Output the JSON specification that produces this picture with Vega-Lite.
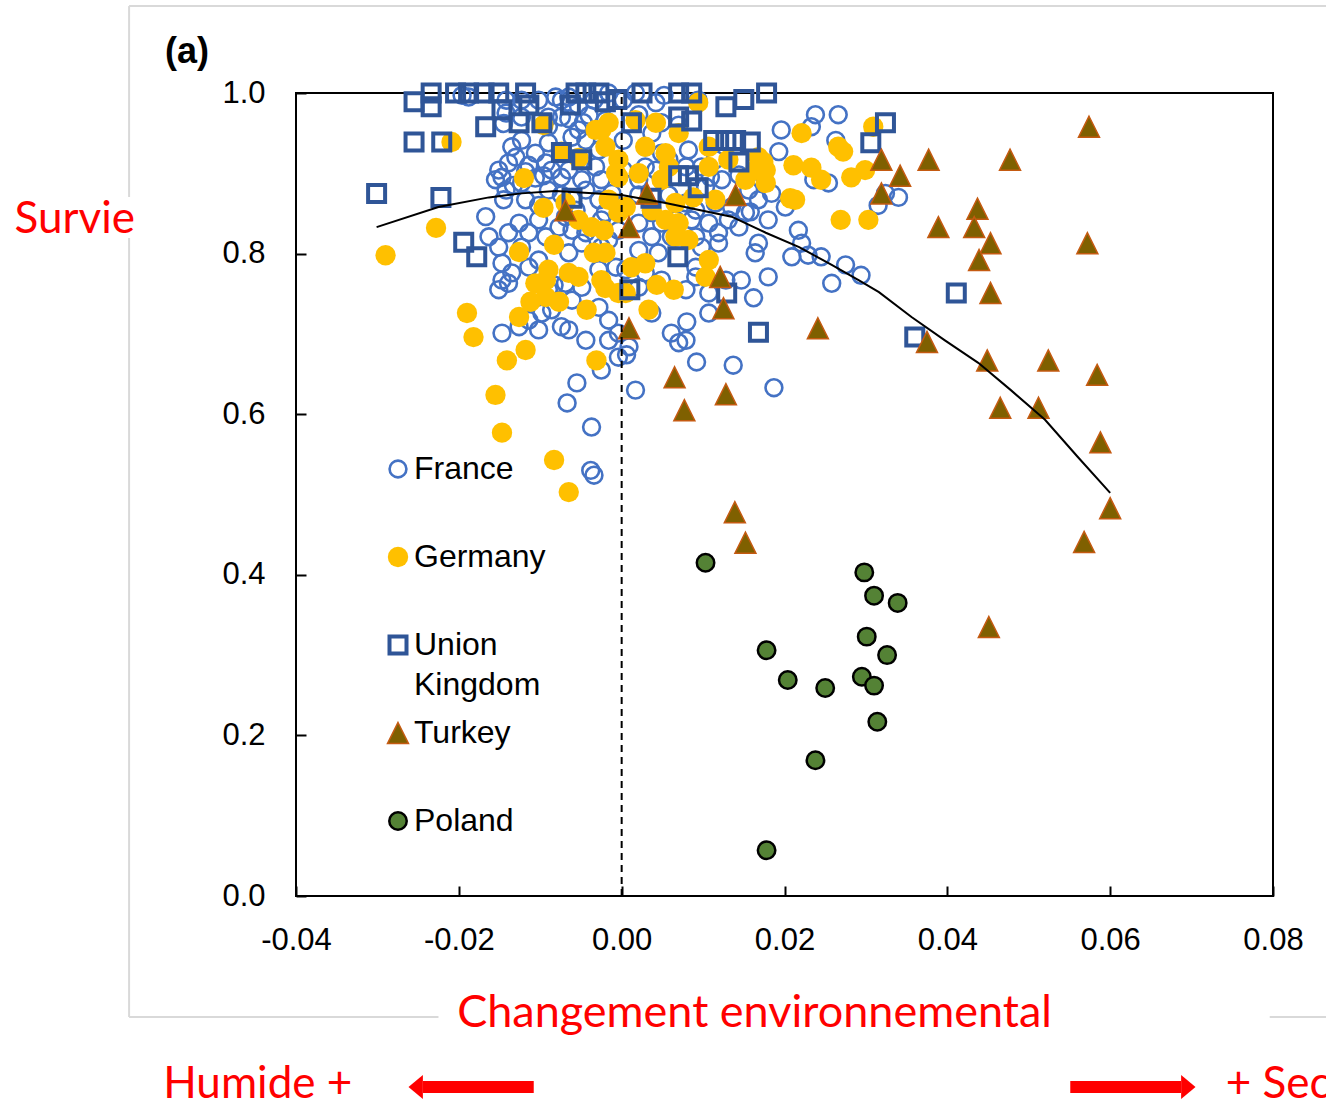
{
  "$schema": "https://vega.github.io/schema/vega-lite/v6.json",
  "width": 977,
  "height": 803,
  "autosize": {"type": "none"},
  "padding": {"left": 296, "top": 93, "right": 53, "bottom": 213},
  "background": "white",
  "config": {
    "view": {"stroke": "black", "strokeWidth": 2},
    "style": {"guide-label": {"lineHeight": 40}},
    "axis": {"domain": false, "grid": false, "ticks": true, "tickColor": "black", "tickWidth": 2, "tickSize": -10, "labelColor": "black", "labelFont": "Liberation Sans", "labelFontSize": 31, "labelFlush": false, "labelOverlap": false, "labelBound": false},
    "legend": {"orient": "none", "legendX": 86, "legendY": 360, "padding": 0, "labelFont": "Liberation Sans", "labelFontSize": 32, "labelColor": "black", "labelOffset": 0, "rowPadding": 15, "gridAlign": "all", "labelLimit": 400}
  },
  "datasets": {
    "pts": [
      {"c":"France","x":-0.0196,"y":0.997},{"c":"France","x":-0.0188,"y":0.995},{"c":"France","x":-0.0142,"y":0.991},{"c":"France","x":-0.0123,"y":0.991},{"c":"France","x":-0.0081,"y":0.995},{"c":"France","x":-0.0074,"y":0.991},{"c":"France","x":-0.0065,"y":0.995},{"c":"France","x":-0.0053,"y":0.983},{"c":"France","x":-0.0016,"y":1.0},{"c":"France","x":0.0017,"y":1.0},{"c":"France","x":0.0042,"y":0.988},{"c":"France","x":-0.0102,"y":0.991},{"c":"France","x":-0.0034,"y":0.991},{"c":"France","x":0.0002,"y":0.991},{"c":"France","x":0.0052,"y":0.997},{"c":"France","x":0.0094,"y":0.991},
      {"c":"France","x":-0.0142,"y":0.975},{"c":"France","x":-0.0123,"y":0.970},{"c":"France","x":-0.0090,"y":0.970},{"c":"France","x":-0.0074,"y":0.970},{"c":"France","x":-0.0065,"y":0.968},{"c":"France","x":-0.0047,"y":0.963},{"c":"France","x":-0.0040,"y":0.972},{"c":"France","x":-0.0020,"y":0.966},{"c":"France","x":-0.0053,"y":0.954},{"c":"France","x":-0.0145,"y":0.962},{"c":"France","x":-0.0090,"y":0.958},{"c":"France","x":0.0049,"y":0.963},{"c":"France","x":0.0037,"y":0.950},{"c":"France","x":0.0196,"y":0.954},{"c":"France","x":0.0238,"y":0.973},{"c":"France","x":0.0266,"y":0.973},{"c":"France","x":0.0233,"y":0.958},{"c":"France","x":0.0021,"y":0.973},{"c":"France","x":0.0070,"y":0.960},
      {"c":"France","x":-0.0135,"y":0.933},{"c":"France","x":-0.0123,"y":0.941},{"c":"France","x":-0.0106,"y":0.925},{"c":"France","x":-0.0090,"y":0.938},{"c":"France","x":-0.0061,"y":0.945},{"c":"France","x":-0.0044,"y":0.941},{"c":"France","x":-0.0130,"y":0.920},{"c":"France","x":0.0029,"y":0.933},{"c":"France","x":0.0049,"y":0.925},{"c":"France","x":0.0058,"y":0.917},{"c":"France","x":0.0115,"y":0.917},{"c":"France","x":0.0263,"y":0.941},{"c":"France","x":0.0193,"y":0.927},{"c":"France","x":-0.0028,"y":0.929},{"c":"France","x":0.0002,"y":0.941},{"c":"France","x":0.0082,"y":0.929},
      {"c":"France","x":-0.0093,"y":0.913},{"c":"France","x":-0.0139,"y":0.913},{"c":"France","x":-0.0151,"y":0.904},{"c":"France","x":-0.0114,"y":0.910},{"c":"France","x":-0.0096,"y":0.897},{"c":"France","x":-0.0118,"y":0.902},{"c":"France","x":-0.0106,"y":0.894},{"c":"France","x":-0.0086,"y":0.904},{"c":"France","x":-0.0074,"y":0.895},{"c":"France","x":-0.0065,"y":0.904},{"c":"France","x":-0.0049,"y":0.892},{"c":"France","x":-0.0032,"y":0.908},{"c":"France","x":-0.0025,"y":0.892},{"c":"France","x":-0.0147,"y":0.895},{"c":"France","x":-0.0133,"y":0.885},{"c":"France","x":-0.0155,"y":0.892},{"c":"France","x":-0.0123,"y":0.888},{"c":"France","x":0.0029,"y":0.908},{"c":"France","x":0.0042,"y":0.904},{"c":"France","x":0.0021,"y":0.892},{"c":"France","x":0.0079,"y":0.908},{"c":"France","x":0.0098,"y":0.908},{"c":"France","x":0.0109,"y":0.895},{"c":"France","x":0.0123,"y":0.892},{"c":"France","x":0.0254,"y":0.888},{"c":"France","x":0.0236,"y":0.892},{"c":"France","x":0.0002,"y":0.904},{"c":"France","x":0.0144,"y":0.898},{"c":"France","x":0.0174,"y":0.898},
      {"c":"France","x":-0.0142,"y":0.879},{"c":"France","x":-0.0145,"y":0.867},{"c":"France","x":-0.0118,"y":0.867},{"c":"France","x":-0.0102,"y":0.860},{"c":"France","x":-0.0090,"y":0.879},{"c":"France","x":-0.0074,"y":0.873},{"c":"France","x":-0.0044,"y":0.879},{"c":"France","x":-0.0028,"y":0.867},{"c":"France","x":-0.0012,"y":0.875},{"c":"France","x":-0.0020,"y":0.851},{"c":"France","x":-0.0167,"y":0.846},{"c":"France","x":0.0103,"y":0.883},{"c":"France","x":0.0156,"y":0.879},{"c":"France","x":0.0135,"y":0.858},{"c":"France","x":0.0115,"y":0.863},{"c":"France","x":0.0091,"y":0.854},{"c":"France","x":0.0079,"y":0.863},{"c":"France","x":0.0037,"y":0.851},{"c":"France","x":0.0168,"y":0.867},{"c":"France","x":0.0184,"y":0.875},{"c":"France","x":0.0201,"y":0.858},{"c":"France","x":0.0158,"y":0.852},{"c":"France","x":0.0324,"y":0.875},{"c":"France","x":0.0340,"y":0.870},{"c":"France","x":0.0315,"y":0.860},{"c":"France","x":0.0021,"y":0.873},{"c":"France","x":0.0058,"y":0.873},{"c":"France","x":-0.0056,"y":0.854},
      {"c":"France","x":-0.0126,"y":0.838},{"c":"France","x":-0.0114,"y":0.826},{"c":"France","x":-0.0139,"y":0.826},{"c":"France","x":-0.0102,"y":0.842},{"c":"France","x":-0.0093,"y":0.821},{"c":"France","x":-0.0077,"y":0.833},{"c":"France","x":-0.0069,"y":0.846},{"c":"France","x":-0.0044,"y":0.826},{"c":"France","x":-0.0025,"y":0.842},{"c":"France","x":-0.0016,"y":0.817},{"c":"France","x":-0.0163,"y":0.821},{"c":"France","x":-0.0061,"y":0.829},{"c":"France","x":-0.0151,"y":0.808},{"c":"France","x":-0.0123,"y":0.808},{"c":"France","x":0.0021,"y":0.838},{"c":"France","x":0.0049,"y":0.838},{"c":"France","x":0.0066,"y":0.842},{"c":"France","x":0.0086,"y":0.842},{"c":"France","x":0.0107,"y":0.838},{"c":"France","x":0.0131,"y":0.842},{"c":"France","x":0.0152,"y":0.851},{"c":"France","x":0.0119,"y":0.826},{"c":"France","x":0.0144,"y":0.833},{"c":"France","x":0.0091,"y":0.821},{"c":"France","x":0.0061,"y":0.821},{"c":"France","x":0.0037,"y":0.821},{"c":"France","x":0.0021,"y":0.804},{"c":"France","x":0.0119,"y":0.813},{"c":"France","x":0.0168,"y":0.813},{"c":"France","x":0.0180,"y":0.842},{"c":"France","x":0.0217,"y":0.829},{"c":"France","x":0.0221,"y":0.813},{"c":"France","x":-0.0049,"y":0.813},{"c":"France","x":-0.0025,"y":0.808},{"c":"France","x":-0.0004,"y":0.829},
      {"c":"France","x":-0.0147,"y":0.788},{"c":"France","x":-0.0135,"y":0.776},{"c":"France","x":-0.0114,"y":0.783},{"c":"France","x":-0.0065,"y":0.801},{"c":"France","x":-0.0007,"y":0.783},{"c":"France","x":-0.0049,"y":0.758},{"c":"France","x":-0.0147,"y":0.767},{"c":"France","x":0.0045,"y":0.801},{"c":"France","x":0.0098,"y":0.808},{"c":"France","x":0.0164,"y":0.801},{"c":"France","x":0.0209,"y":0.796},{"c":"France","x":0.0229,"y":0.798},{"c":"France","x":0.0245,"y":0.796},{"c":"France","x":0.0275,"y":0.786},{"c":"France","x":0.0294,"y":0.773},{"c":"France","x":0.0180,"y":0.771},{"c":"France","x":0.0147,"y":0.767},{"c":"France","x":0.0128,"y":0.767},{"c":"France","x":0.0091,"y":0.771},{"c":"France","x":0.0049,"y":0.767},{"c":"France","x":0.0029,"y":0.776},{"c":"France","x":0.0005,"y":0.780},{"c":"France","x":0.0021,"y":0.758},{"c":"France","x":0.0091,"y":0.783},{"c":"France","x":-0.0102,"y":0.792},{"c":"France","x":-0.0083,"y":0.761},{"c":"France","x":-0.0028,"y":0.780},{"c":"France","x":-0.0069,"y":0.763},{"c":"France","x":-0.0090,"y":0.755},{"c":"France","x":-0.0151,"y":0.755},{"c":"France","x":-0.0139,"y":0.763},{"c":"France","x":0.0258,"y":0.763},{"c":"France","x":0.0079,"y":0.755},{"c":"France","x":0.0107,"y":0.751},
      {"c":"France","x":-0.0061,"y":0.742},{"c":"France","x":-0.0028,"y":0.733},{"c":"France","x":-0.0016,"y":0.717},{"c":"France","x":-0.0004,"y":0.701},{"c":"France","x":-0.0147,"y":0.701},{"c":"France","x":-0.0126,"y":0.709},{"c":"France","x":-0.0098,"y":0.726},{"c":"France","x":-0.0086,"y":0.730},{"c":"France","x":-0.0074,"y":0.709},{"c":"France","x":-0.0065,"y":0.705},{"c":"France","x":-0.0044,"y":0.692},{"c":"France","x":-0.0016,"y":0.692},{"c":"France","x":-0.0114,"y":0.717},{"c":"France","x":0.0009,"y":0.684},{"c":"France","x":0.0037,"y":0.726},{"c":"France","x":0.0061,"y":0.701},{"c":"France","x":0.0070,"y":0.689},{"c":"France","x":0.0079,"y":0.692},{"c":"France","x":0.0080,"y":0.715},{"c":"France","x":0.0107,"y":0.726},{"c":"France","x":0.0162,"y":0.745},{"c":"France","x":-0.0102,"y":0.705},
      {"c":"France","x":-0.0025,"y":0.655},{"c":"France","x":-0.0004,"y":0.671},{"c":"France","x":-0.0055,"y":0.639},{"c":"France","x":-0.0067,"y":0.614},{"c":"France","x":-0.0037,"y":0.584},{"c":"France","x":-0.0038,"y":0.530},{"c":"France","x":-0.0034,"y":0.524},{"c":"France","x":0.0017,"y":0.630},{"c":"France","x":0.0092,"y":0.665},{"c":"France","x":0.0137,"y":0.661},{"c":"France","x":0.0187,"y":0.633},{"c":"France","x":0.0006,"y":0.674},
      {"c":"Germany","x":-0.0290,"y":0.798},{"c":"Germany","x":-0.0228,"y":0.832},{"c":"Germany","x":-0.0209,"y":0.939},{"c":"Germany","x":-0.0190,"y":0.726},{"c":"Germany","x":-0.0182,"y":0.696},{"c":"Germany","x":-0.0155,"y":0.624},{"c":"Germany","x":-0.0147,"y":0.577},{"c":"Germany","x":-0.0083,"y":0.543},{"c":"Germany","x":-0.0065,"y":0.503},{"c":"Germany","x":-0.0141,"y":0.667},{"c":"Germany","x":-0.0118,"y":0.680},{"c":"Germany","x":-0.0126,"y":0.721},{"c":"Germany","x":-0.0112,"y":0.740},{"c":"Germany","x":-0.0093,"y":0.746},{"c":"Germany","x":-0.0077,"y":0.740},{"c":"Germany","x":-0.0093,"y":0.767},{"c":"Germany","x":-0.0053,"y":0.771},{"c":"Germany","x":-0.0025,"y":0.767},{"c":"Germany","x":-0.0020,"y":0.757},{"c":"Germany","x":-0.0043,"y":0.730},{"c":"Germany","x":-0.0031,"y":0.667},{"c":"Germany","x":-0.0004,"y":0.751},{"c":"Germany","x":-0.0120,"y":0.894},{"c":"Germany","x":-0.0096,"y":0.960},{"c":"Germany","x":-0.0074,"y":0.927},{"c":"Germany","x":-0.0053,"y":0.919},{"c":"Germany","x":-0.0025,"y":0.954},{"c":"Germany","x":-0.0020,"y":0.933},{"c":"Germany","x":-0.0004,"y":0.917},{"c":"Germany","x":-0.0004,"y":0.895},{"c":"Germany","x":-0.0069,"y":0.863},{"c":"Germany","x":-0.0096,"y":0.857},{"c":"Germany","x":-0.0083,"y":0.811},{"c":"Germany","x":-0.0053,"y":0.842},{"c":"Germany","x":-0.0037,"y":0.833},{"c":"Germany","x":-0.0022,"y":0.829},{"c":"Germany","x":-0.0126,"y":0.802},{"c":"Germany","x":-0.0090,"y":0.780},{"c":"Germany","x":-0.0065,"y":0.776},{"c":"Germany","x":-0.0034,"y":0.801},{"c":"Germany","x":-0.0004,"y":0.851},{"c":"Germany","x":-0.0016,"y":0.963},{"c":"Germany","x":-0.0032,"y":0.954},{"c":"Germany","x":-0.0106,"y":0.763},{"c":"Germany","x":-0.0007,"y":0.900},{"c":"Germany","x":0.0017,"y":0.966},{"c":"Germany","x":0.0029,"y":0.933},{"c":"Germany","x":0.0042,"y":0.963},{"c":"Germany","x":0.0054,"y":0.925},{"c":"Germany","x":0.0058,"y":0.908},{"c":"Germany","x":0.0070,"y":0.950},{"c":"Germany","x":0.0094,"y":0.988},{"c":"Germany","x":0.0107,"y":0.933},{"c":"Germany","x":0.0107,"y":0.908},{"c":"Germany","x":0.0131,"y":0.917},{"c":"Germany","x":0.0164,"y":0.904},{"c":"Germany","x":0.0168,"y":0.920},{"c":"Germany","x":0.0177,"y":0.888},{"c":"Germany","x":0.0152,"y":0.892},{"c":"Germany","x":0.0088,"y":0.870},{"c":"Germany","x":0.0066,"y":0.863},{"c":"Germany","x":0.0115,"y":0.867},{"c":"Germany","x":0.0049,"y":0.892},{"c":"Germany","x":0.0021,"y":0.900},{"c":"Germany","x":0.0005,"y":0.858},{"c":"Germany","x":-0.0016,"y":0.867},{"c":"Germany","x":0.0037,"y":0.854},{"c":"Germany","x":0.0054,"y":0.842},{"c":"Germany","x":0.0070,"y":0.838},{"c":"Germany","x":0.0082,"y":0.817},{"c":"Germany","x":0.0066,"y":0.821},{"c":"Germany","x":0.0107,"y":0.792},{"c":"Germany","x":0.0029,"y":0.788},{"c":"Germany","x":0.0012,"y":0.783},{"c":"Germany","x":-0.0020,"y":0.801},{"c":"Germany","x":0.0033,"y":0.730},{"c":"Germany","x":0.0043,"y":0.761},{"c":"Germany","x":0.0064,"y":0.755},{"c":"Germany","x":0.0103,"y":0.771},{"c":"Germany","x":0.0005,"y":0.751},{"c":"Germany","x":0.0221,"y":0.950},{"c":"Germany","x":0.0211,"y":0.910},{"c":"Germany","x":0.0233,"y":0.907},{"c":"Germany","x":0.0245,"y":0.892},{"c":"Germany","x":0.0266,"y":0.933},{"c":"Germany","x":0.0272,"y":0.927},{"c":"Germany","x":0.0282,"y":0.895},{"c":"Germany","x":0.0299,"y":0.904},{"c":"Germany","x":0.0309,"y":0.958},{"c":"Germany","x":0.0207,"y":0.869},{"c":"Germany","x":0.0213,"y":0.867},{"c":"Germany","x":0.0269,"y":0.842},{"c":"Germany","x":0.0303,"y":0.842},{"c":"Germany","x":0.0174,"y":0.914},{"c":"Germany","x":0.0177,"y":0.904},
      {"c":"Union Kingdom","x":-0.0234,"y":1.0},{"c":"Union Kingdom","x":-0.0204,"y":1.0},{"c":"Union Kingdom","x":-0.0188,"y":1.0},{"c":"Union Kingdom","x":-0.0169,"y":1.0},{"c":"Union Kingdom","x":-0.0151,"y":1.0},{"c":"Union Kingdom","x":-0.0118,"y":1.0},{"c":"Union Kingdom","x":-0.0056,"y":1.0},{"c":"Union Kingdom","x":-0.0044,"y":1.0},{"c":"Union Kingdom","x":-0.0028,"y":1.0},{"c":"Union Kingdom","x":0.0025,"y":1.0},{"c":"Union Kingdom","x":0.0070,"y":1.0},{"c":"Union Kingdom","x":0.0086,"y":1.0},{"c":"Union Kingdom","x":0.0178,"y":1.0},{"c":"Union Kingdom","x":-0.0255,"y":0.989},{"c":"Union Kingdom","x":-0.0234,"y":0.983},{"c":"Union Kingdom","x":-0.0147,"y":0.979},{"c":"Union Kingdom","x":-0.0114,"y":0.985},{"c":"Union Kingdom","x":-0.0063,"y":0.985},{"c":"Union Kingdom","x":-0.0020,"y":0.989},{"c":"Union Kingdom","x":-0.0006,"y":0.992},{"c":"Union Kingdom","x":0.0070,"y":0.970},{"c":"Union Kingdom","x":0.0086,"y":0.965},{"c":"Union Kingdom","x":0.0128,"y":0.983},{"c":"Union Kingdom","x":0.0150,"y":0.992},{"c":"Union Kingdom","x":-0.0167,"y":0.958},{"c":"Union Kingdom","x":-0.0126,"y":0.963},{"c":"Union Kingdom","x":-0.0098,"y":0.963},{"c":"Union Kingdom","x":-0.0255,"y":0.939},{"c":"Union Kingdom","x":-0.0221,"y":0.939},{"c":"Union Kingdom","x":-0.0074,"y":0.926},{"c":"Union Kingdom","x":-0.0049,"y":0.917},{"c":"Union Kingdom","x":-0.0301,"y":0.875},{"c":"Union Kingdom","x":-0.0222,"y":0.870},{"c":"Union Kingdom","x":-0.0194,"y":0.814},{"c":"Union Kingdom","x":-0.0178,"y":0.796},{"c":"Union Kingdom","x":-0.0061,"y":0.869},{"c":"Union Kingdom","x":0.0012,"y":0.963},{"c":"Union Kingdom","x":0.0113,"y":0.941},{"c":"Union Kingdom","x":0.0128,"y":0.941},{"c":"Union Kingdom","x":0.0140,"y":0.941},{"c":"Union Kingdom","x":0.0158,"y":0.939},{"c":"Union Kingdom","x":0.0144,"y":0.914},{"c":"Union Kingdom","x":0.0070,"y":0.897},{"c":"Union Kingdom","x":0.0082,"y":0.897},{"c":"Union Kingdom","x":0.0094,"y":0.882},{"c":"Union Kingdom","x":0.0036,"y":0.869},{"c":"Union Kingdom","x":0.0324,"y":0.963},{"c":"Union Kingdom","x":0.0306,"y":0.938},{"c":"Union Kingdom","x":0.0069,"y":0.796},{"c":"Union Kingdom","x":0.0010,"y":0.755},{"c":"Union Kingdom","x":0.0129,"y":0.751},{"c":"Union Kingdom","x":0.0168,"y":0.702},{"c":"Union Kingdom","x":0.0360,"y":0.696},{"c":"Union Kingdom","x":0.0411,"y":0.751},
      {"c":"Turkey","x":0.0574,"y":0.958},{"c":"Turkey","x":0.0377,"y":0.917},{"c":"Turkey","x":0.0477,"y":0.917},{"c":"Turkey","x":0.0319,"y":0.917},{"c":"Turkey","x":0.0342,"y":0.897},{"c":"Turkey","x":0.0319,"y":0.875},{"c":"Turkey","x":0.0437,"y":0.856},{"c":"Turkey","x":0.0389,"y":0.833},{"c":"Turkey","x":0.0433,"y":0.833},{"c":"Turkey","x":0.0453,"y":0.813},{"c":"Turkey","x":0.0572,"y":0.813},{"c":"Turkey","x":0.0439,"y":0.792},{"c":"Turkey","x":0.0453,"y":0.751},{"c":"Turkey","x":0.0375,"y":0.690},{"c":"Turkey","x":0.0449,"y":0.667},{"c":"Turkey","x":0.0524,"y":0.667},{"c":"Turkey","x":0.0584,"y":0.649},{"c":"Turkey","x":0.0465,"y":0.608},{"c":"Turkey","x":0.0512,"y":0.608},{"c":"Turkey","x":0.0588,"y":0.565},{"c":"Turkey","x":0.0600,"y":0.483},{"c":"Turkey","x":0.0568,"y":0.441},{"c":"Turkey","x":0.0451,"y":0.335},{"c":"Turkey","x":0.0121,"y":0.771},{"c":"Turkey","x":0.0125,"y":0.732},{"c":"Turkey","x":0.0009,"y":0.707},{"c":"Turkey","x":0.0241,"y":0.707},{"c":"Turkey","x":0.0065,"y":0.646},{"c":"Turkey","x":0.0128,"y":0.625},{"c":"Turkey","x":0.0077,"y":0.605},{"c":"Turkey","x":0.0139,"y":0.478},{"c":"Turkey","x":0.0152,"y":0.440},{"c":"Turkey","x":0.0140,"y":0.873},{"c":"Turkey","x":0.0031,"y":0.875},{"c":"Turkey","x":0.0009,"y":0.833},{"c":"Turkey","x":-0.0069,"y":0.854},
      {"c":"Poland","x":0.0103,"y":0.415},{"c":"Poland","x":0.0298,"y":0.403},{"c":"Poland","x":0.0310,"y":0.374},{"c":"Poland","x":0.0339,"y":0.365},{"c":"Poland","x":0.0301,"y":0.323},{"c":"Poland","x":0.0326,"y":0.300},{"c":"Poland","x":0.0178,"y":0.306},{"c":"Poland","x":0.0204,"y":0.269},{"c":"Poland","x":0.0250,"y":0.259},{"c":"Poland","x":0.0295,"y":0.273},{"c":"Poland","x":0.0310,"y":0.262},{"c":"Poland","x":0.0314,"y":0.217},{"c":"Poland","x":0.0238,"y":0.169},{"c":"Poland","x":0.0178,"y":0.057}
    ],
    "trend": [
      {"x":-0.0301,"y":0.833},{"x":-0.0225,"y":0.858},{"x":-0.0163,"y":0.870},{"x":-0.0123,"y":0.875},{"x":-0.0081,"y":0.878},{"x":0.0,"y":0.873},{"x":0.0054,"y":0.863},{"x":0.0135,"y":0.846},{"x":0.0177,"y":0.826},{"x":0.0218,"y":0.808},{"x":0.0258,"y":0.786},{"x":0.0291,"y":0.767},{"x":0.0316,"y":0.752},{"x":0.0356,"y":0.721},{"x":0.0397,"y":0.692},{"x":0.0438,"y":0.664},{"x":0.0478,"y":0.630},{"x":0.0520,"y":0.593},{"x":0.0560,"y":0.547},{"x":0.0600,"y":0.502}
    ]
  },
  "layer": [
    {
      "data": {"name": "pts"},
      "mark": {"type": "point", "opacity": 1},
      "encoding": {
        "x": {"field": "x", "type": "quantitative", "scale": {"domain": [-0.04, 0.08], "nice": false, "zero": false},
          "axis": {"values": [-0.04, -0.02, 0, 0.02, 0.04, 0.06, 0.08], "labelExpr": "datum.value < 0 ? '-' + format(-datum.value, '.2f') : format(datum.value, '.2f')", "labelPadding": 39,
            "title": "Changement environnemental", "titleColor": "#FF0000", "titleFont": "Lato", "titleFontSize": 45, "titleFontWeight": "normal", "titleX": 458, "titleY": 116, "titleAlign": "center", "titleBaseline": "middle", "titleAngle": 0}},
        "y": {"field": "y", "type": "quantitative", "scale": {"domain": [0, 1], "nice": false, "zero": false},
          "axis": {"values": [0, 0.2, 0.4, 0.6, 0.8, 1], "format": ".1f", "labelPadding": 41,
            "title": "Survie", "titleColor": "#FF0000", "titleFont": "Lato", "titleFontSize": 44, "titleFontWeight": "normal", "titleX": -282, "titleY": 126, "titleAlign": "left", "titleBaseline": "middle", "titleAngle": 0}},
        "fill": {"field": "c", "type": "nominal", "title": null,
          "scale": {"domain": ["France", "Germany", "Union Kingdom", "Turkey", "Poland"], "range": ["transparent", "#FFC000", "transparent", "#7F6000", "#548235"]},
          "legend": {"labelExpr": "datum.label == 'Union Kingdom' ? ['Union', 'Kingdom'] : datum.label"}},
        "stroke": {"field": "c", "type": "nominal", "title": null,
          "scale": {"domain": ["France", "Germany", "Union Kingdom", "Turkey", "Poland"], "range": ["#4472C4", "#FFC000", "#2F5597", "#C55A11", "#000000"]},
          "legend": {"labelExpr": "datum.label == 'Union Kingdom' ? ['Union', 'Kingdom'] : datum.label"}},
        "shape": {"field": "c", "type": "nominal", "title": null,
          "scale": {"domain": ["France", "Germany", "Union Kingdom", "Turkey", "Poland"], "range": ["circle", "circle", "square", "M0,-1L1,1L-1,1Z", "circle"]},
          "legend": {"labelExpr": "datum.label == 'Union Kingdom' ? ['Union', 'Kingdom'] : datum.label"}},
        "size": {"field": "c", "type": "nominal", "title": null,
          "scale": {"type": "ordinal", "domain": ["France", "Germany", "Union Kingdom", "Turkey", "Poland"], "range": [283, 415, 289, 441, 305]},
          "legend": {"labelExpr": "datum.label == 'Union Kingdom' ? ['Union', 'Kingdom'] : datum.label"}},
        "strokeWidth": {"field": "c", "type": "nominal", "title": null,
          "scale": {"type": "ordinal", "domain": ["France", "Germany", "Union Kingdom", "Turkey", "Poland"], "range": [2.6, 0, 4, 1.5, 2.5]},
          "legend": {"labelExpr": "datum.label == 'Union Kingdom' ? ['Union', 'Kingdom'] : datum.label"}}
      }
    },
    {
      "data": {"name": "trend"},
      "mark": {"type": "line", "color": "black", "strokeWidth": 2},
      "encoding": {
        "x": {"field": "x", "type": "quantitative", "scale": {"domain": [-0.04, 0.08], "nice": false, "zero": false}},
        "y": {"field": "y", "type": "quantitative", "scale": {"domain": [0, 1], "nice": false, "zero": false}}
      }
    },
    {
      "data": {"values": [{}]},
      "mark": {"type": "rule", "color": "black", "strokeWidth": 2, "strokeDash": [7, 5]},
      "encoding": {
        "x": {"datum": 0, "type": "quantitative"},
        "y": {"datum": 0, "type": "quantitative"},
        "y2": {"datum": 1}
      }
    },
    {
      "data": {"values": [{}]},
      "mark": {"type": "rule", "color": "#D9D9D9", "strokeWidth": 2},
      "encoding": {
        "x": {"datum": -0.0605, "type": "quantitative"},
        "x2": {"datum": 0.09},
        "y": {"datum": 1.1083, "type": "quantitative"}
      }
    },
    {
      "data": {"values": [{}]},
      "mark": {"type": "rule", "color": "#D9D9D9", "strokeWidth": 2},
      "encoding": {
        "x": {"datum": -0.0605, "type": "quantitative"},
        "y": {"datum": 1.1083, "type": "quantitative"},
        "y2": {"datum": 0.8705}
      }
    },
    {
      "data": {"values": [{}]},
      "mark": {"type": "rule", "color": "#D9D9D9", "strokeWidth": 2},
      "encoding": {
        "x": {"datum": -0.0605, "type": "quantitative"},
        "y": {"datum": 0.8194, "type": "quantitative"},
        "y2": {"datum": -0.1507}
      }
    },
    {
      "data": {"values": [{}]},
      "mark": {"type": "rule", "color": "#D9D9D9", "strokeWidth": 2},
      "encoding": {
        "x": {"datum": -0.0605, "type": "quantitative"},
        "x2": {"datum": -0.0225},
        "y": {"datum": -0.1507, "type": "quantitative"}
      }
    },
    {
      "data": {"values": [{}]},
      "mark": {"type": "rule", "color": "#D9D9D9", "strokeWidth": 2},
      "encoding": {
        "x": {"datum": 0.0796, "type": "quantitative"},
        "x2": {"datum": 0.09},
        "y": {"datum": -0.1507, "type": "quantitative"}
      }
    },
    {
      "data": {"values": [{}]},
      "mark": {"type": "text", "text": "(a)", "color": "black", "font": "Liberation Sans", "fontSize": 36, "fontWeight": "bold", "align": "left", "baseline": "alphabetic"},
      "encoding": {
        "x": {"datum": -0.0561, "type": "quantitative"},
        "y": {"datum": 1.0374, "type": "quantitative"}
      }
    },
    {
      "data": {"values": [{}]},
      "mark": {"type": "text", "text": "Humide +", "color": "#FF0000", "font": "Lato", "fontSize": 44, "align": "center", "baseline": "middle"},
      "encoding": {
        "x": {"datum": -0.0447, "type": "quantitative"},
        "y": {"datum": -0.2355, "type": "quantitative"}
      }
    },
    {
      "data": {"values": [{}]},
      "mark": {"type": "text", "text": "+ Sec", "color": "#FF0000", "font": "Lato", "fontSize": 44, "align": "left", "baseline": "middle"},
      "encoding": {
        "x": {"datum": 0.0742, "type": "quantitative"},
        "y": {"datum": -0.2355, "type": "quantitative"}
      }
    },
    {
      "data": {"values": [{}]},
      "mark": {"type": "rule", "color": "#FF0000", "strokeWidth": 12, "strokeCap": "butt"},
      "encoding": {
        "x": {"datum": -0.0244, "type": "quantitative"},
        "x2": {"datum": -0.0108},
        "y": {"datum": -0.2379, "type": "quantitative"}
      }
    },
    {
      "data": {"values": [{}]},
      "mark": {"type": "rule", "color": "#FF0000", "strokeWidth": 12, "strokeCap": "butt"},
      "encoding": {
        "x": {"datum": 0.0551, "type": "quantitative"},
        "x2": {"datum": 0.0687},
        "y": {"datum": -0.2379, "type": "quantitative"}
      }
    },
    {
      "data": {"values": [{}]},
      "mark": {"type": "point", "shape": "M-0.6,0L0.6,-1L0.6,1Z", "filled": true, "color": "#FF0000", "size": 576, "opacity": 1, "strokeWidth": 0},
      "encoding": {
        "x": {"datum": -0.0253, "type": "quantitative"},
        "y": {"datum": -0.2379, "type": "quantitative"}
      }
    },
    {
      "data": {"values": [{}]},
      "mark": {"type": "point", "shape": "M0.6,0L-0.6,-1L-0.6,1Z", "filled": true, "color": "#FF0000", "size": 576, "opacity": 1, "strokeWidth": 0},
      "encoding": {
        "x": {"datum": 0.0696, "type": "quantitative"},
        "y": {"datum": -0.2379, "type": "quantitative"}
      }
    }
  ]
}
